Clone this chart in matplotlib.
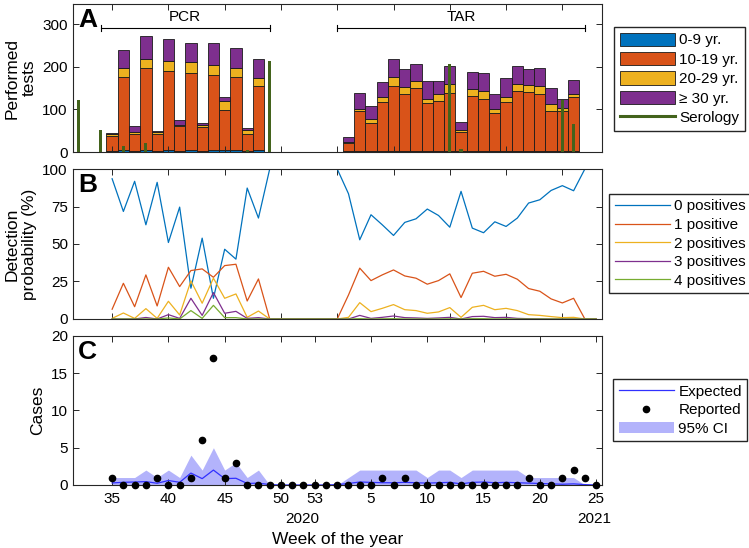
import matplotlib
matplotlib.use("Agg")
import matplotlib.pyplot as plt
import matplotlib.transforms as mtransforms
import numpy as np

plt.rcParams['font.family'] = ['Liberation Sans', 'DejaVu Sans']

# week index runs on: 53 = week 53 of 2020, 54 = week 1 of 2021, ...
bar_weeks = [35, 36, 37, 38, 39, 40, 41, 42, 43, 44, 45, 46, 47, 48,
             56, 57, 58, 59, 60, 61, 62, 63, 64, 65, 66, 67, 68, 69, 70, 71, 72, 73, 74, 75, 76]
age_0_9 = [2, 4, 2, 5, 2, 5, 3, 5, 3, 5, 4, 5, 2, 5,
           2, 2, 2, 2, 2, 2, 2, 2, 2, 2, 2, 2, 2, 2, 2, 2, 2, 2, 2, 2, 2]
age_10_19 = [35, 172, 40, 191, 40, 185, 57, 181, 56, 175, 94, 170, 40, 149,
             19, 94, 65, 116, 153, 134, 147, 113, 117, 137, 44, 129, 123, 90, 116, 141, 138, 133, 94, 94, 126]
age_20_29 = [6, 22, 6, 21, 4, 23, 4, 24, 4, 23, 21, 23, 9, 20,
             2, 4, 11, 11, 20, 16, 17, 9, 18, 21, 6, 17, 18, 10, 12, 17, 17, 19, 17, 8, 7]
age_30 = [2, 42, 13, 55, 3, 52, 12, 46, 6, 52, 9, 46, 6, 45,
          13, 39, 30, 35, 43, 43, 41, 42, 30, 42, 19, 40, 43, 33, 43, 41, 37, 42, 36, 20, 34]

sero_weeks = [32, 34, 36, 38, 47, 49, 65, 66, 75, 76]
sero_tests = [121, 51, 15, 22, 5, 213, 206, 7, 121, 65]

weeks = list(range(35, 79))
p0 = [93.5, 71.7, 91.8, 62.8, 91.1, 51.0, 74.6, 20.5, 53.9, 13.8, 46.5, 39.9, 87.3, 67.3, 100,
      100, 100, 100, 100, 100,
      100, 83.5, 52.8, 69.5, 62.8, 55.7, 64.4, 66.8, 73.3, 69.0, 61.2, 85.1, 60.6, 57.5, 64.8, 61.7,
      67.3, 77.3, 79.5, 85.7, 88.9, 85.5, 100, 100]
p1 = [6.5, 23.8, 8.2, 29.4, 8.7, 34.5, 21.6, 32.3, 33.4, 27.8, 35.6, 36.5, 12.0, 26.7, 0,
      0, 0, 0, 0, 0,
      0, 16.0, 33.9, 25.6, 29.4, 32.7, 28.7, 27.2, 23.2, 25.6, 30.1, 14.3, 30.5, 31.8, 28.5, 29.8,
      26.5, 20.3, 18.5, 13.4, 10.7, 13.8, 0, 0]
p2 = [0.4, 4.0, 0.4, 6.9, 0.4, 11.8, 2.7, 25.4, 10.5, 27.2, 13.8, 16.7, 1.1, 5.3, 0,
      0, 0, 0, 0, 0,
      0, 1.1, 10.9, 4.9, 7.1, 9.6, 6.2, 5.6, 3.8, 4.7, 7.6, 1.1, 7.8, 9.1, 6.2, 7.1,
      5.6, 2.9, 2.4, 1.6, 0.9, 1.1, 0, 0]
p3 = [0, 0, 0, 1.0, 0, 2.9, 0.4, 13.8, 2.4, 17.6, 3.8, 5.1, 0.4, 0.9, 0,
      0, 0, 0, 0, 0,
      0, 0, 2.4, 0.4, 1.1, 2.0, 0.9, 0.7, 0.4, 0.7, 1.1, 0, 1.6, 1.8, 0.9, 1.1,
      0.4, 0.2, 0.1, 0, 0, 0, 0, 0]
p4 = [0, 0, 0, 0, 0, 0.7, 0, 5.6, 0.4, 9.1, 0.9, 0.9, 0, 0, 0,
      0, 0, 0, 0, 0,
      0, 0, 0.2, 0, 0.1, 0.2, 0, 0, 0, 0, 0.1, 0, 0.2, 0.2, 0, 0.1,
      0, 0, 0, 0, 0, 0, 0, 0]

reported = [1, 0, 0, 0, 1, 0, 0, 1, 6, 17, 1, 3,
            0, 0, 0, 0, 0, 0, 0, 0, 0, 0, 0, 0,
            1, 0, 1,
            0, 0, 0, 0, 0, 0, 0, 0, 0, 0,
            1, 0, 0, 1, 2, 1, 0]
expected = [0.27, 0.36, 0.4, 0.45, 0.23, 0.6, 0.36, 1.6, 0.85, 2.0, 0.85, 0.9, 0.2, 0.25, 0.05,
            0, 0, 0, 0, 0,
            0.05, 0.2, 0.4, 0.35, 0.3, 0.3, 0.35, 0.3, 0.25, 0.3, 0.35, 0.15, 0.35, 0.4, 0.3, 0.35,
            0.3, 0.25, 0.2, 0.15, 0.1, 0.15, 0.05, 0]
ci_hi = [1, 1, 1, 2, 1, 2, 1, 4, 2, 5, 2, 3, 1, 2, 0,
         0, 0, 0, 0, 0,
         0, 1, 2, 2, 2, 2, 2, 2, 1, 2, 2, 1, 2, 2, 2, 2, 2, 1, 1, 1, 1, 1, 0, 0]
ci_lo = [0] * len(weeks)

tick_pos = [35, 40, 45, 50, 53, 58, 63, 68, 73, 78]
tick_lab = ['35', '40', '45', '50', '53', '5', '10', '15', '20', '25']
year_lab = [(51.9, '2020'), (77.8, '2021')]
pcr_span = (34, 49)
tar_span = (55, 77)

c_blue, c_orange, c_yellow, c_purple, c_green = '#0072BD', '#D95319', '#EDB120', '#7E2F8E', '#77AC30'
c_sero = '#43631c'
edge = '0.15'
fs_tick, fs_lab = 11, 12.5

fig = plt.figure(figsize=(7.49, 5.48), dpi=100)
L, W = 0.0971, 0.7063
ax1 = fig.add_axes([L, 0.7226, W, 0.270])
ax2 = fig.add_axes([L, 0.4179, W, 0.2737])
ax3 = fig.add_axes([L, 0.115, W, 0.272])

for ax in [ax1, ax2, ax3]:
    ax.set_xlim(31.5, 78.5)
    ax.tick_params(direction='in', top=True, right=True, length=4, width=0.7,
                   labelsize=fs_tick, colors=edge, labelcolor='k')
    for s in ax.spines.values():
        s.set_color(edge)
        s.set_linewidth(0.8)
for ax in [ax1, ax2]:
    ax.set_xticks([35, 40, 45, 50, 55, 60, 65, 70, 75])
    ax.set_xticklabels([])

# A: performed tests
b = np.array(bar_weeks)
bot = np.zeros(len(bar_weeks))
handles = []
for vals, col, lab in [(age_0_9, c_blue, '0-9 yr.'), (age_10_19, c_orange, '10-19 yr.'),
                       (age_20_29, c_yellow, '20-29 yr.'), (age_30, c_purple, '\u2265 30 yr.')]:
    h = ax1.bar(b, vals, width=1, bottom=bot, color=col, edgecolor='0.1', linewidth=0.6, label=lab)
    bot = bot + np.array(vals)
    handles.append(h)
ax1.bar(sero_weeks, sero_tests, width=0.28, color=c_sero, linewidth=0, zorder=3)
handles.append(plt.Line2D([], [], color=c_sero, lw=2.2, label='Serology'))
ax1.set_ylim(0, 347)
ax1.set_yticks([0, 100, 200, 300])
ax1.set_ylabel('Performed\ntests', fontsize=fs_lab)
for span, name in [(pcr_span, 'PCR'), (tar_span, 'TAR')]:
    ax1.plot(span, [290, 290], color='k', lw=0.8)
    for x in span:
        ax1.plot([x, x], [283, 297], color='k', lw=0.8)
    ax1.text(sum(span) / 2, 300, name, ha='center', va='bottom', fontsize=fs_tick)
ax1.legend(handles=handles, loc='upper left', bbox_to_anchor=(1.024, 0.843), borderaxespad=0,
           fontsize=fs_tick, fancybox=False, edgecolor=edge, framealpha=1,
           handlelength=3.6, handleheight=0.95, labelspacing=0.3, handletextpad=0.3,
           borderpad=0.35)

# B: detection probability
for vals, col, lab in [(p0, c_blue, '0 positives'), (p1, c_orange, '1 positive'),
                       (p2, c_yellow, '2 positives'), (p3, c_purple, '3 positives'),
                       (p4, c_green, '4 positives')]:
    ax2.plot(weeks, vals, color=col, lw=0.9, label=lab)
ax2.set_ylim(0, 100)
ax2.set_yticks([0, 25, 50, 75, 100])
ax2.set_ylabel('Detection\nprobability (%)', fontsize=fs_lab)
ax2.legend(loc='upper left', bbox_to_anchor=(1.014, 0.833), borderaxespad=0,
           fontsize=fs_tick, fancybox=False, edgecolor=edge, framealpha=1,
           handlelength=3.6, labelspacing=0.3, handletextpad=0.3, borderpad=0.35)

# C: cases
ax3.fill_between(weeks, ci_lo, ci_hi, color='#b3b3fb', linewidth=0, label='95% CI')
ax3.plot(weeks, expected, color='#3030ff', lw=0.9, label='Expected')
ax3.plot(weeks, reported, 'o', color='k', ms=4.5, label='Reported', clip_on=False, zorder=4)
ax3.set_ylim(0, 20)
ax3.set_yticks([0, 5, 10, 15, 20])
ax3.set_xticks(tick_pos)
ax3.set_xticklabels(tick_lab)
ax3.tick_params(axis='x', pad=5)
ax3.set_ylabel('Cases', fontsize=fs_lab)
ax3.set_xlabel('Week of the year', fontsize=fs_lab, labelpad=19)
trans = mtransforms.blended_transform_factory(ax3.transData, ax3.transAxes)
for x, t in year_lab:
    ax3.text(x, -0.225, t, transform=trans, ha='center', va='center', fontsize=fs_tick)
h, l = ax3.get_legend_handles_labels()
order = [1, 2, 0]
ax3.legend([h[i] for i in order], [l[i] for i in order], loc='upper left',
           bbox_to_anchor=(1.022, 0.709), borderaxespad=0,
           fontsize=fs_tick, fancybox=False, edgecolor=edge, framealpha=1,
           handlelength=3.6, labelspacing=0.3, handletextpad=0.3, borderpad=0.35)

for ax, letter in [(ax1, 'A'), (ax2, 'B'), (ax3, 'C')]:
    ax.text(0.01, 0.975, letter, transform=ax.transAxes, fontsize=19, fontweight='bold',
            ha='left', va='top')

fig.align_ylabels([ax1, ax2, ax3])
fig.savefig('out.png', dpi=100)
